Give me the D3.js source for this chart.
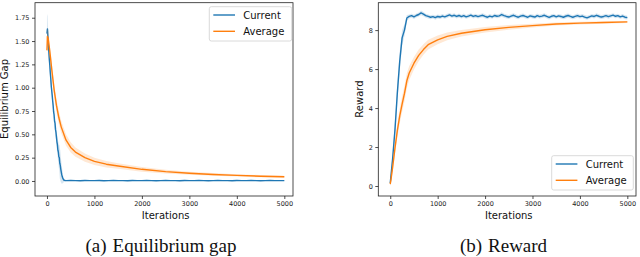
<!DOCTYPE html>
<html><head><meta charset="utf-8">
<script src="https://cdn.jsdelivr.net/npm/d3@7"></script>
<style>
html,body{margin:0;padding:0;background:#fff;}
svg{display:block;}
text{font-family:"DejaVu Sans",sans-serif;}
</style></head>
<body>
<svg id="chart" width="640" height="257"></svg>
<script>
// ---------- DATA ----------
const xTicks = [0, 1000, 2000, 3000, 4000, 5000];
const gapTicks = [0, 0.25, 0.5, 0.75, 1.0, 1.25, 1.5, 1.75];
const rewardTicks = [0, 2, 4, 6, 8];
const seriesNames = ["Current", "Average"];
const captions = ["(a)", "Equilibrium gap", "(b)", "Reward"];

// Equilibrium gap - Current (iterations 0..390 step 10, then 400..5000 step 100)
const gapCurIter = [0,10,20,30,40,50,60,70,80,90,100,110,120,130,140,150,160,170,180,190,200,210,220,230,240,250,260,270,280,290,300,310,320,330,340,350,360,370,380,390,
  400,500,600,700,800,900,1000,1100,1200,1300,1400,1500,1600,1700,1800,1900,2000,2100,2200,2300,2400,2500,2600,2700,2800,2900,3000,3100,3200,3300,3400,3500,3600,3700,3800,3900,4000,4100,4200,4300,4400,4500,4600,4700,4800,4900,5000];
const gapCur = [1.58,1.63,1.55,1.45,1.38,1.30,1.24,1.16,1.10,1.02,0.97,0.92,0.86,0.81,0.74,0.71,0.64,0.62,0.55,0.52,0.47,0.42,0.39,0.33,0.31,0.26,0.25,0.19,0.17,0.13,0.10,0.07,0.05,0.035,0.022,0.013,0.008,0.006,0.005,0.004,
  0.004,0.005,0.004,0.003,0.005,0.004,0.004,0.005,0.003,0.004,0.005,0.004,0.004,0.003,0.005,0.004,0.004,0.005,0.004,0.003,0.004,0.005,0.004,0.004,0.003,0.005,0.004,0.004,0.005,0.004,0.003,0.004,0.005,0.004,0.004,0.003,0.005,0.004,0.004,0.005,0.004,0.003,0.004,0.005,0.004,0.004,0.004];
const gapCurSpread = [0.18,0.16,0.12,0.09,0.08,0.08,0.08,0.08,0.07,0.07,0.07,0.06,0.06,0.06,0.06,0.06,0.07,0.07,0.07,0.08,0.08,0.09,0.09,0.1,0.11,0.12,0.14,0.16,0.16,0.14,0.12,0.1,0.08,0.06,0.04,0.03,0.02,0.012,0.008,0.006,
  0.005,0.004,0.004,0.004,0.004,0.004,0.004,0.004,0.004,0.004,0.004,0.004,0.004,0.004,0.004,0.004,0.004,0.004,0.004,0.004,0.004,0.004,0.004,0.004,0.004,0.004,0.004,0.004,0.004,0.004,0.004,0.004,0.004,0.004,0.004,0.004,0.004,0.004,0.004,0.004,0.004,0.004,0.004,0.004,0.004,0.004,0.004];

// Equilibrium gap - Average
const gapAvgIter = [0,10,25,50,75,100,150,200,250,300,400,500,600,800,1000,1250,1500,2000,2500,3000,3500,4000,4500,5000];
const gapAvg = [1.40,1.55,1.53,1.43,1.32,1.20,0.98,0.81,0.68,0.58,0.44,0.36,0.31,0.25,0.21,0.18,0.16,0.125,0.10,0.083,0.07,0.06,0.051,0.045];
const gapAvgSpread = [0.1,0.09,0.08,0.07,0.07,0.07,0.07,0.07,0.07,0.065,0.06,0.055,0.05,0.045,0.04,0.035,0.03,0.025,0.02,0.017,0.015,0.013,0.012,0.01];

// Reward - Current (every 50 iterations, 0..5000)
const rewardCurIter = [0,50,100,150,200,250,300,350,400,450,500,550,600,650,700,750,800,850,900,950,1000,1050,1100,1150,1200,1250,1300,1350,1400,1450,1500,1550,1600,1650,1700,1750,1800,1850,1900,1950,2000,2050,2100,2150,2200,2250,2300,2350,2400,2450,2500,2550,2600,2650,2700,2750,2800,2850,2900,2950,3000,3050,3100,3150,3200,3250,3300,3350,3400,3450,3500,3550,3600,3650,3700,3750,3800,3850,3900,3950,4000,4050,4100,4150,4200,4250,4300,4350,4400,4450,4500,4550,4600,4650,4700,4750,4800,4850,4900,4950,5000];
const rewardCur = [0.15,1.4,2.9,4.8,6.4,7.6,8.0,8.62,
  8.70,8.74,8.68,8.75,8.80,8.88,8.82,8.74,8.70,8.66,
  8.69,8.64,8.70,8.67,8.72,8.68,8.73,8.78,8.72,8.76,
  8.70,8.75,8.69,8.74,8.68,8.72,8.77,8.70,8.74,8.69,
  8.73,8.76,8.70,8.66,8.72,8.68,8.75,8.71,8.73,8.80,
  8.74,8.70,8.67,8.72,8.76,8.70,8.66,8.72,8.75,8.70,
  8.66,8.73,8.70,8.67,8.74,8.69,8.72,8.76,8.70,8.65,
  8.71,8.74,8.68,8.73,8.70,8.66,8.71,8.75,8.70,8.66,
  8.70,8.74,8.69,8.72,8.67,8.63,8.68,8.73,8.70,8.76,
  8.71,8.67,8.70,8.74,8.69,8.73,8.77,8.71,8.74,8.68,
  8.72,8.66,8.64];
const rewardCurSpread = [0.15,0.3,0.45,0.5,0.5,0.4,0.3,0.15,
  0.1,0.1,0.11,0.1,0.1,0.12,0.11,0.1,0.1,0.1,
  0.1,0.11,0.1,0.1,0.1,0.1,0.11,0.1,0.1,0.1,
  0.1,0.1,0.1,0.11,0.1,0.1,0.1,0.1,0.1,0.1,
  0.1,0.1,0.11,0.1,0.1,0.1,0.1,0.1,0.1,0.11,
  0.1,0.1,0.1,0.1,0.1,0.11,0.1,0.1,0.1,0.1,
  0.1,0.1,0.1,0.1,0.11,0.1,0.1,0.1,0.1,0.1,
  0.1,0.1,0.1,0.1,0.1,0.1,0.11,0.1,0.1,0.1,
  0.1,0.11,0.1,0.1,0.1,0.1,0.1,0.1,0.1,0.1,
  0.1,0.1,0.1,0.1,0.11,0.1,0.1,0.1,0.1,0.1,
  0.1,0.1,0.1];

// Reward - Average
const rewardAvgIter = [0,25,50,75,100,150,200,250,300,350,400,500,600,700,800,1000,1200,1500,2000,2500,3000,3500,4000,4500,5000];
const rewardAvg = [0.1,0.5,0.95,1.45,1.95,2.85,3.6,4.2,4.75,5.4,5.8,6.3,6.7,7.0,7.25,7.5,7.68,7.84,8.02,8.14,8.23,8.31,8.36,8.39,8.42];
const rewardAvgSpread = [0.1,0.15,0.2,0.25,0.3,0.35,0.38,0.4,0.4,0.38,0.36,0.32,0.3,0.27,0.25,0.22,0.2,0.17,0.14,0.12,0.1,0.08,0.07,0.06,0.05];

// ---------- DRAW ----------
const colors = ["#1f77b4", "#ff7f0e"];
const svg = d3.select("#chart");

function zip(iter, vals, spread) {
  return iter.map((it, i) => ({x: it, y: vals[i], s: spread[i]}));
}

function panel(cfg) {
  const g = svg.append("g");
  const x = d3.scaleLinear().domain([-252, 5183]).range([cfg.left, cfg.right]);
  const y = d3.scaleLinear().domain(cfg.yDomain).range([cfg.bottom, cfg.top]);

  cfg.series.forEach((s, k) => {
    const data = zip(s.iter, s.vals, s.spread);
    g.append("path").datum(data)
      .attr("fill", colors[k]).attr("fill-opacity", 0.18).attr("stroke", "none")
      .attr("d", d3.area().x(d => x(d.x)).y0(d => y(d.y - d.s)).y1(d => y(d.y + d.s)));
    g.append("path").datum(data)
      .attr("fill", "none").attr("stroke", colors[k]).attr("stroke-width", 1.4)
      .attr("stroke-linejoin", "round")
      .attr("d", d3.line().x(d => x(d.x)).y(d => y(d.y)));
  });

  // frame
  g.append("rect").attr("x", cfg.left).attr("y", cfg.top)
    .attr("width", cfg.right - cfg.left).attr("height", cfg.bottom - cfg.top)
    .attr("fill", "none").attr("stroke", "#222").attr("stroke-width", 0.8);

  const xa = g.append("g").attr("transform", `translate(0,${cfg.bottom})`)
    .call(d3.axisBottom(x).tickValues(xTicks).tickFormat(d3.format("d")).tickSize(3).tickPadding(2.5));
  const ya = g.append("g").attr("transform", `translate(${cfg.left},0)`)
    .call(d3.axisLeft(y).tickValues(cfg.yTicks).tickFormat(cfg.yFormat).tickSize(3).tickPadding(2.5));
  [xa, ya].forEach(a => {
    a.select(".domain").remove();
    a.selectAll(".tick line").attr("stroke", "#222").attr("stroke-width", 0.8);
    a.selectAll(".tick text").attr("fill", "#222").style("font-size", "6.5px").style("font-family", "DejaVu Sans");
  });

  g.append("text").attr("x", (x(0) + x(5000)) / 2).attr("y", 219.3)
    .attr("text-anchor", "middle").style("font-size", "10px").attr("fill", "#111")
    .text("Iterations");
  g.append("text").attr("transform", `translate(${cfg.yLabelX},99) rotate(-90)`)
    .attr("text-anchor", "middle").style("font-size", "10px").attr("fill", "#111")
    .text(cfg.yLabel);

  // legend
  const L = cfg.legend;
  g.append("rect").attr("x", L.x).attr("y", L.y).attr("width", L.w).attr("height", L.h)
    .attr("rx", 2).attr("fill", "#fff").attr("fill-opacity", 0.8)
    .attr("stroke", "#d0d0d0").attr("stroke-width", 0.8);
  seriesNames.forEach((n, k) => {
    const yy = L.y + 8.3 + k * 16.3;
    g.append("line").attr("x1", L.x + 4).attr("x2", L.x + 25.7).attr("y1", yy).attr("y2", yy)
      .attr("stroke", colors[k]).attr("stroke-width", 1.4);
    g.append("text").attr("x", L.x + 34).attr("y", yy + 3.6)
      .style("font-size", "10px").attr("fill", "#111").text(n);
  });

  // caption
  const cap = svg.append("text").attr("x", cfg.capX).attr("y", 251.7).attr("text-anchor", "middle")
    .style("font-family", "'Liberation Serif', serif").style("font-size", "19px").attr("fill", "#111");
  cap.append("tspan").text(cfg.cap[0]);
  cap.append("tspan").attr("dx", 6).text(cfg.cap[1]);
}

panel({
  left: 35, right: 293, top: 2.7, bottom: 196,
  yDomain: [-0.161, 1.911], yTicks: gapTicks, yFormat: d3.format(".2f"),
  yLabel: "Equilibrium Gap", yLabelX: 7.6,
  series: [
    {iter: gapCurIter, vals: gapCur, spread: gapCurSpread},
    {iter: gapAvgIter, vals: gapAvg, spread: gapAvgSpread}
  ],
  legend: {x: 209.3, y: 6.7, w: 82.4, h: 34.3},
  cap: [captions[0], captions[1]], capX: 161
});

panel({
  left: 378.3, right: 636, top: 2.7, bottom: 196,
  yDomain: [-0.513, 9.406], yTicks: rewardTicks, yFormat: d3.format("d"),
  yLabel: "Reward", yLabelX: 363,
  series: [
    {iter: rewardCurIter, vals: rewardCur, spread: rewardCurSpread},
    {iter: rewardAvgIter, vals: rewardAvg, spread: rewardAvgSpread}
  ],
  legend: {x: 551.7, y: 155.7, w: 81.6, h: 34.3},
  cap: [captions[2], captions[3]], capX: 503.5
});
</script>
</body></html>
